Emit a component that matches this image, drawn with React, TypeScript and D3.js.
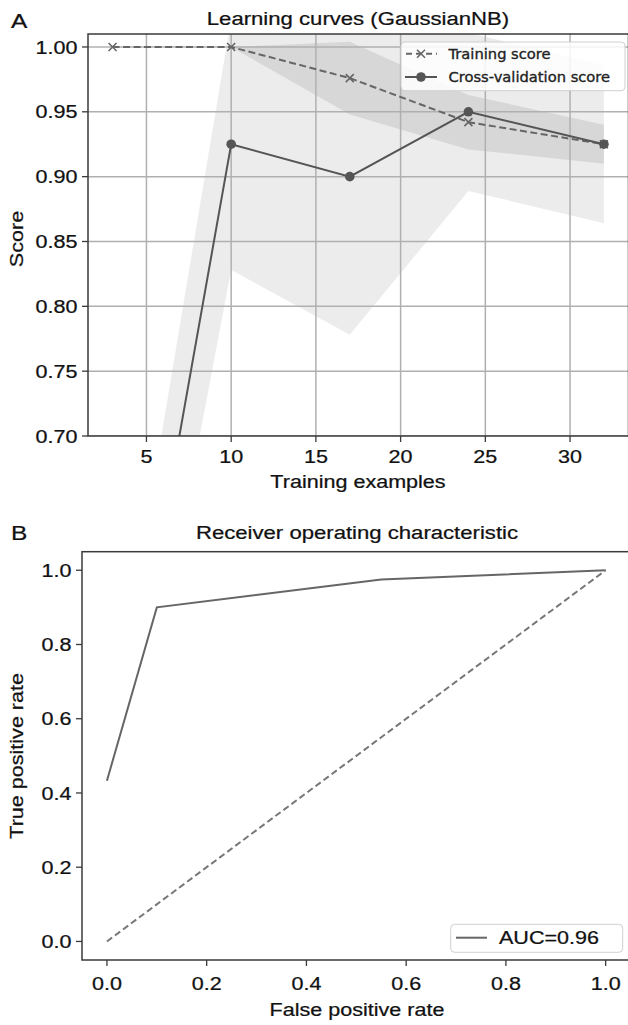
import React from "react";
import * as d3 from "d3";

// ---------- data ----------
const trainSizes = [3, 10, 17, 24, 32];
const trainMean = [1.0, 1.0, 0.976, 0.942, 0.925];
const trainStd = [0, 0, 0.028, 0.021, 0.015];
const cvMean = [0.41, 0.925, 0.9, 0.95, 0.925];
const cvStd = [0.065, 0.097, 0.122, 0.061, 0.061];
const lcXTicks = [5, 10, 15, 20, 25, 30];
const lcYTicks = [0.7, 0.75, 0.8, 0.85, 0.9, 0.95, 1.0];

const rocFpr = [0, 0.1, 0.55, 1.0];
const rocTpr = [0.433, 0.9, 0.975, 1.0];
const chanceFpr = [0, 1];
const chanceTpr = [0, 1];
const rocTicks = [0, 0.2, 0.4, 0.6, 0.8, 1.0];
const aucLabel = "AUC=0.96";

// ---------- style ----------
const SX = 1.165;
const SANS = "'Liberation Sans', Arial, Helvetica, sans-serif";
const DEJAVU = "'DejaVu Sans', sans-serif";
const TXT = "#111";
const SPINE = "#3a3a3a";

function T({ x, y, size, anchor = "start", rotate = 0, family = SANS, fill = TXT, children }: any) {
  return (
    <text
      transform={`translate(${x},${y}) rotate(${rotate}) scale(${SX},1)`}
      fontSize={size}
      fontFamily={family}
      textAnchor={anchor}
      fill={fill}
      stroke={fill}
      strokeWidth={0.25}
    >
      {children}
    </text>
  );
}

export default function App() {
  // ----- panel A -----
  const ax = { l: 88, r: 628.5, t: 34, b: 436 };
  const x1 = d3.scaleLinear().domain([1.55, 33.45]).range([ax.l, ax.r]);
  const y1 = d3.scaleLinear().domain([0.7, 1.01]).range([ax.b, ax.t]);
  const idx = trainSizes.map((_, i) => i);

  const band = (mean: number[], std: number[]) =>
    d3
      .area<number>()
      .x((i) => x1(trainSizes[i]))
      .y0((i) => y1(mean[i] - std[i]))
      .y1((i) => y1(mean[i] + std[i]))(idx) as string;
  const line1 = (mean: number[]) =>
    d3
      .line<number>()
      .x((i) => x1(trainSizes[i]))
      .y((i) => y1(mean[i]))(idx) as string;

  // ----- panel B -----
  const bx = { l: 82, r: 630.6, t: 551.7, b: 960 };
  const x2 = d3.scaleLinear().domain([-0.05, 1.05]).range([bx.l, bx.r]);
  const y2 = d3.scaleLinear().domain([-0.05, 1.05]).range([bx.b, bx.t]);
  const rocLine = d3
    .line<number>()
    .x((i) => x2(rocFpr[i]))
    .y((i) => y2(rocTpr[i]))(rocFpr.map((_, i) => i)) as string;
  const chanceLine = d3
    .line<number>()
    .x((i) => x2(chanceFpr[i]))
    .y((i) => y2(chanceTpr[i]))(chanceFpr.map((_, i) => i)) as string;

  const xMark = (cx: number, cy: number, key: any) => (
    <path
      key={key}
      d={`M${cx - 4},${cy - 4}L${cx + 4},${cy + 4}M${cx - 4},${cy + 4}L${cx + 4},${cy - 4}`}
      stroke="#666"
      strokeWidth={1.6}
      fill="none"
    />
  );

  return (
    <div style={{ position: "absolute", left: 0, top: 0 }}>
      <svg width={628} height={1025} style={{ display: "block", background: "#fff" }}>
        <defs>
          <clipPath id="clipA">
            <rect x={ax.l} y={ax.t} width={ax.r - ax.l} height={ax.b - ax.t} />
          </clipPath>
          <clipPath id="clipB">
            <rect x={bx.l} y={bx.t} width={bx.r - bx.l} height={bx.b - bx.t} />
          </clipPath>
        </defs>
        <rect x={0} y={0} width={628} height={1025} fill="#fff" />

        {/* ===== Panel A ===== */}
        <T x={11} y={28} size={21}>A</T>
        <T x={(ax.l + 628) / 2} y={25} size={19} anchor="middle">Learning curves (GaussianNB)</T>

        <g clipPath="url(#clipA)">
          <path d={band(cvMean, cvStd)} fill="#000" fillOpacity={0.075} />
          <path d={band(trainMean, trainStd)} fill="#000" fillOpacity={0.085} />
          {lcXTicks.map((t) => (
            <line key={"gx" + t} x1={x1(t)} x2={x1(t)} y1={ax.t} y2={ax.b} stroke="#b0b0b0" strokeWidth={1.5} />
          ))}
          {lcYTicks.map((t) => (
            <line key={"gy" + t} x1={ax.l} x2={ax.r} y1={y1(t)} y2={y1(t)} stroke="#b0b0b0" strokeWidth={1.5} />
          ))}
          <path d={line1(trainMean)} fill="none" stroke="#666" strokeWidth={2} strokeDasharray="7,3.5" />
          {idx.map((i) => xMark(x1(trainSizes[i]), y1(trainMean[i]), "tm" + i))}
          <path d={line1(cvMean)} fill="none" stroke="#555" strokeWidth={2} />
          {idx.map((i) => (
            <circle key={"cm" + i} cx={x1(trainSizes[i])} cy={y1(cvMean[i])} r={4.8} fill="#555" />
          ))}
        </g>

        {/* spines A */}
        <rect x={ax.l} y={ax.t} width={ax.r - ax.l} height={ax.b - ax.t} fill="none" stroke={SPINE} strokeWidth={1.5} />
        {lcXTicks.map((t) => (
          <g key={"xt" + t}>
            <line x1={x1(t)} x2={x1(t)} y1={ax.b} y2={ax.b + 6} stroke={SPINE} strokeWidth={1.3} />
            <T x={x1(t)} y={463} size={18.5} anchor="middle">{String(t)}</T>
          </g>
        ))}
        {lcYTicks.map((t) => (
          <g key={"yt" + t}>
            <line x1={ax.l - 6} x2={ax.l} y1={y1(t)} y2={y1(t)} stroke={SPINE} strokeWidth={1.3} />
            <T x={77.5} y={y1(t) + 6.6} size={18.5} anchor="end">{d3.format(".2f")(t)}</T>
          </g>
        ))}
        <T x={(ax.l + 628) / 2} y={488} size={18.5} anchor="middle">Training examples</T>
        <T x={23} y={(ax.t + ax.b) / 2 + 4} size={18.5} anchor="middle" rotate={-90}>Score</T>

        {/* legend A */}
        <rect x={401} y={42} width={224} height={48.7} rx={4} fill="#fff" fillOpacity={0.85} stroke="#d0d0d0" strokeWidth={1} />
        <line x1={405} x2={437} y1={53.7} y2={53.7} stroke="#666" strokeWidth={2} strokeDasharray="6,4" strokeDashoffset={-1} />
        {xMark(421, 53.7, "lgx")}
        <text x={448.5} y={59} fontSize={14.7} fontFamily={DEJAVU} fill="#222" stroke="#222" strokeWidth={0.35}>Training score</text>
        <line x1={405} x2={437} y1={77} y2={77} stroke="#555" strokeWidth={2} />
        <circle cx={421} cy={77} r={4.8} fill="#555" />
        <text x={448.5} y={82.3} fontSize={14.7} fontFamily={DEJAVU} fill="#222" stroke="#222" strokeWidth={0.35}>Cross-validation score</text>

        {/* ===== Panel B ===== */}
        <T x={11} y={540} size={21}>B</T>
        <T x={357} y={539} size={19} anchor="middle">Receiver operating characteristic</T>

        <g clipPath="url(#clipB)">
          <path d={rocLine} fill="none" stroke="#666" strokeWidth={2} />
          <path d={chanceLine} fill="none" stroke="#777" strokeWidth={2} strokeDasharray="6.5,3.5" />
        </g>
        <rect x={bx.l} y={bx.t} width={bx.r - bx.l} height={bx.b - bx.t} fill="none" stroke={SPINE} strokeWidth={1.5} />
        {rocTicks.map((t) => (
          <g key={"bxt" + t}>
            <line x1={x2(t)} x2={x2(t)} y1={bx.b} y2={bx.b + 6} stroke={SPINE} strokeWidth={1.3} />
            <T x={x2(t)} y={990} size={18.5} anchor="middle">{d3.format(".1f")(t)}</T>
          </g>
        ))}
        {rocTicks.map((t) => (
          <g key={"byt" + t}>
            <line x1={bx.l - 6} x2={bx.l} y1={y2(t)} y2={y2(t)} stroke={SPINE} strokeWidth={1.3} />
            <T x={71.5} y={y2(t) + 6.6} size={18.5} anchor="end">{d3.format(".1f")(t)}</T>
          </g>
        ))}
        <T x={357} y={1016} size={18.5} anchor="middle">False positive rate</T>
        <T x={23} y={(bx.t + bx.b) / 2} size={18.5} anchor="middle" rotate={-90}>True positive rate</T>

        {/* legend B */}
        <rect x={450.7} y={924.3} width={172} height={28} rx={4} fill="#fff" fillOpacity={0.85} stroke="#d0d0d0" strokeWidth={1} />
        <line x1={456} x2={487} y1={937.7} y2={937.7} stroke="#666" strokeWidth={2} />
        <T x={499} y={944.3} size={18.5}>{aucLabel}</T>
      </svg>
    </div>
  );
}
